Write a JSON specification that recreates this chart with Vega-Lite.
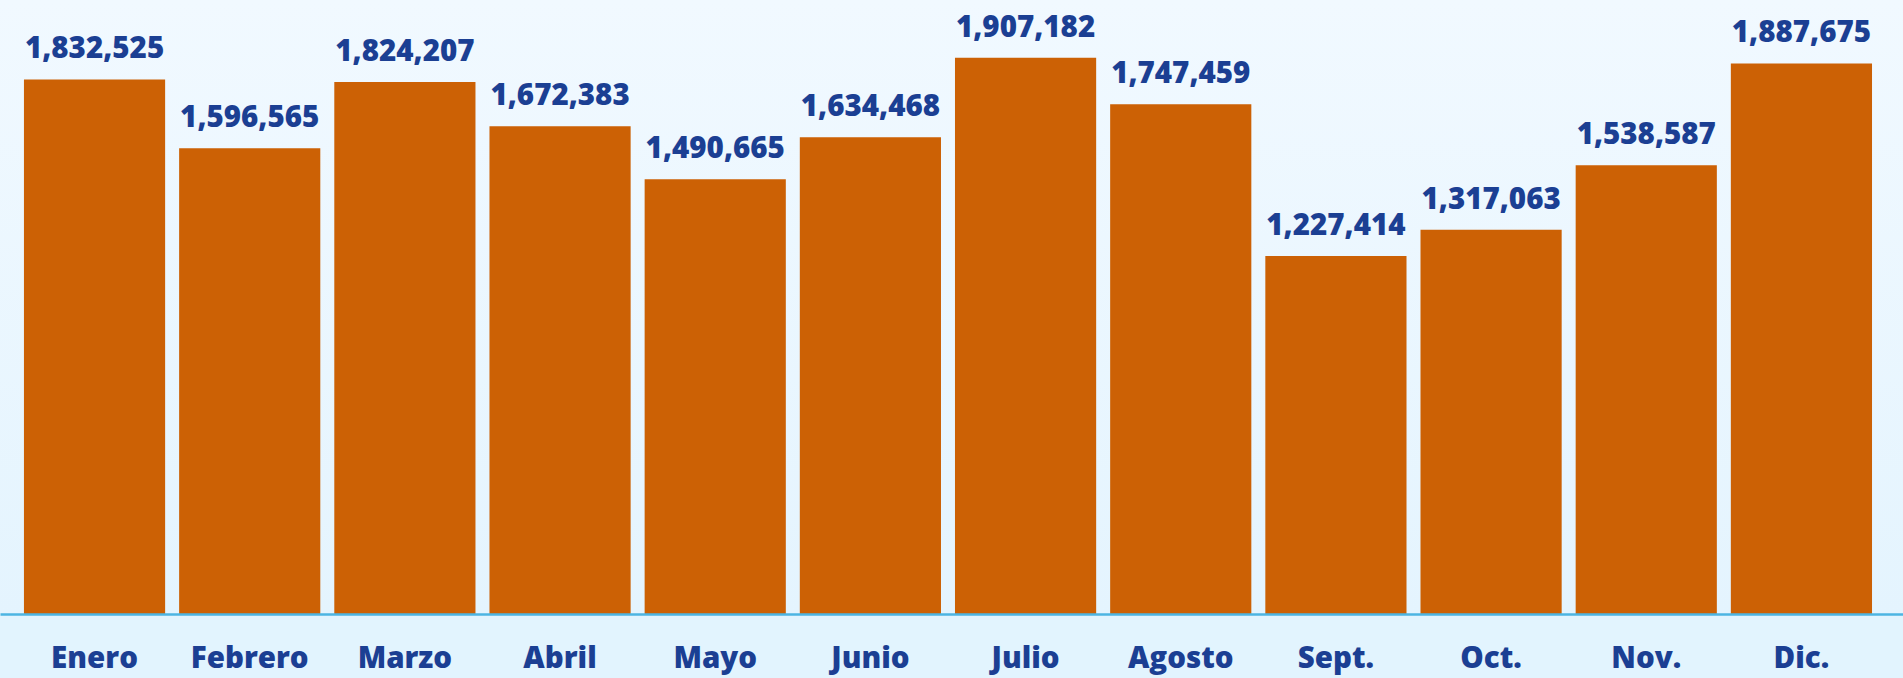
{
  "$schema": "https://vega.github.io/schema/vega-lite/v6.json",
  "width": 1903,
  "height": 614,
  "autosize": {"type": "none"},
  "padding": {"left": 0, "right": 0, "top": 0, "bottom": 64},
  "background": "#e2f4fe",
  "config": {
    "view": {
      "stroke": null,
      "fill": {"gradient": "linear", "x1": 0, "y1": 0, "x2": 0, "y2": 1, "stops": [{"offset": 0, "color": "#f1f9ff"}, {"offset": 1, "color": "#e4f4fe"}]}
    }
  },
  "data": {
    "values": [
      {"mes": "Enero", "valor": 1832525},
      {"mes": "Febrero", "valor": 1596565},
      {"mes": "Marzo", "valor": 1824207},
      {"mes": "Abril", "valor": 1672383},
      {"mes": "Mayo", "valor": 1490665},
      {"mes": "Junio", "valor": 1634468},
      {"mes": "Julio", "valor": 1907182},
      {"mes": "Agosto", "valor": 1747459},
      {"mes": "Sept.", "valor": 1227414},
      {"mes": "Oct.", "valor": 1317063},
      {"mes": "Nov.", "valor": 1538587},
      {"mes": "Dic.", "valor": 1887675}
    ]
  },
  "encoding": {
    "x": {
      "field": "mes", "type": "nominal", "sort": null,
      "scale": {"paddingInner": 0.0902, "paddingOuter": 0.177, "align": 0.436},
      "axis": {
        "title": null, "ticks": false, "tickSize": 0, "grid": false,
        "domainColor": "#4cb5e2", "domainWidth": 2.5, "zindex": 1,
        "labelAngle": 0, "labelFont": "Open Sans", "labelFontWeight": 800,
        "labelFontSize": 29.5, "labelColor": "#1b3f93",
        "labelBaseline": "alphabetic", "labelPadding": 53
      }
    },
    "y": {
      "field": "valor", "type": "quantitative",
      "scale": {"domain": [0, 2105000], "nice": false},
      "axis": null
    }
  },
  "layer": [
    {"mark": {"type": "bar", "color": "#cc6105"}},
    {
      "mark": {"type": "text", "baseline": "alphabetic", "dy": -21, "font": "Open Sans", "fontWeight": 800, "fontSize": 29.5, "color": "#1b3f93"},
      "encoding": {"text": {"field": "valor", "type": "quantitative", "format": ","}}
    }
  ]
}
